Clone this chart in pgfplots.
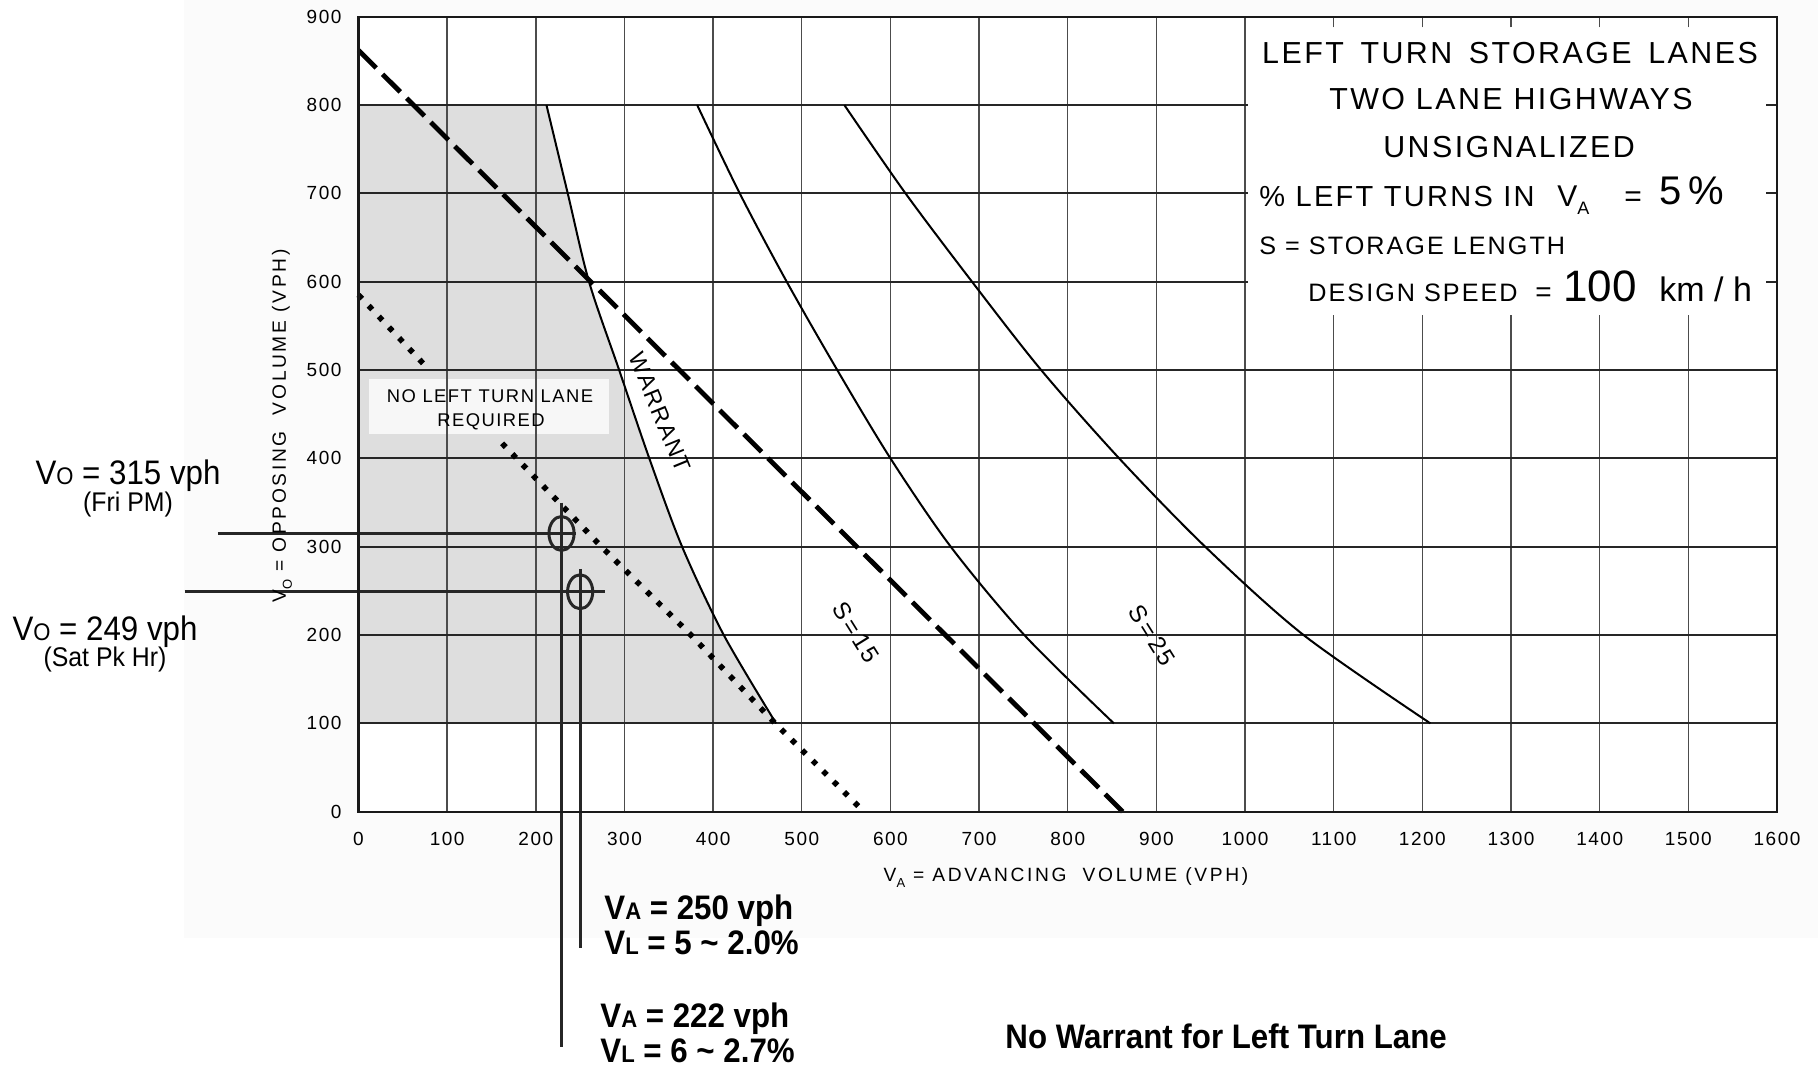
\documentclass[border=0pt]{standalone}
\usepackage{fontspec}
\setmainfont{Liberation Sans}
\newfontfamily\chartfont[LetterSpace=8]{Liberation Sans}
\newfontfamily\chartwide[LetterSpace=14]{Liberation Sans}
\newfontfamily\annfont[FakeStretch=0.92]{Liberation Sans}
\usepackage{pgfplots}
\pgfplotsset{compat=1.18}
\newcommand{\PX}[2]{({(#1)*0.5pt},{(1073-(#2))*0.5pt})}
\newcommand{\fs}[1]{\fontsize{#1}{#1}\selectfont}
\tikzset{
  hgrid/.style={line width=1.1pt, black!85},
  vgrid/.style={line width=0.7pt, black!70},
  ann/.style={line width=1.6pt, black!85},
}
\begin{document}
\begin{tikzpicture}
\path[use as bounding box] (0,0) rectangle (909pt,536.5pt);
\fill[black!1.5] \PX{184}{0} rectangle \PX{1818}{938};
\begin{axis}[
  at={(179.25pt,130.65pt)}, anchor=south west,
  scale only axis, width=709.25pt, height=397.5pt,
  xmin=0, xmax=1600, ymin=0, ymax=900,
  xtick={0,100,200,300,400,500,600,700,800,900,1000,1100,1200,1300,1400,1500,1600},
  ytick={0,100,200,300,400,500,600,700,800,900},
  major tick length=0pt,
  axis on top,
  axis line style={line width=1.1pt, black!90},
  clip=false,
  ticklabel style={font=\chartfont\fs{9.5}},
  /pgf/number format/assume math mode=true,
  /pgf/number format/set thousands separator={},
  xticklabel style={yshift=-6.5pt},
  yticklabel style={xshift=-5pt},
  axis background/.style={fill=white},
]
% shaded "no left turn lane required" region
\addplot[draw=none, fill=black!13] coordinates {(0,100) (0,800) (212,800) (236,700) (260,600) (294,500) (328,400) (365,300) (412,200) (471,100)} -- cycle;
\addplot[draw=none, fill=black!3] coordinates {(12,428) (12,490) (282,490) (282,428)} -- cycle;
% grid
\pgfplotsinvokeforeach{100,200,300,400,500,600,700,800,900,1000}{\addplot[vgrid] coordinates {(#1,0) (#1,900)};}
\pgfplotsinvokeforeach{1100,1200,1300,1400,1500}{\addplot[vgrid] coordinates {(#1,0) (#1,562)}; \addplot[vgrid] coordinates {(#1,888) (#1,900)};}
\pgfplotsinvokeforeach{100,200,300,400,500}{\addplot[hgrid] coordinates {(0,#1) (1600,#1)};}
\pgfplotsinvokeforeach{600,700,800}{\addplot[hgrid] coordinates {(0,#1) (1003,#1)}; \addplot[hgrid] coordinates {(1588,#1) (1600,#1)};}
% warrant
\addplot[line width=1pt, black, smooth, tension=0.5] coordinates {(212,800) (236,700) (260,600) (294,500) (328,400) (365,300) (412,200) (471,100)};
% dashed
\addplot[line width=2.4pt, black, dash pattern=on 12.5pt off 4.5pt] coordinates {(0,862) (862,0)};
% dotted
\addplot[line width=2.8pt, black, dash pattern=on 2.6pt off 4.8pt] coordinates {(0,585) (78,502)};
\addplot[line width=2.8pt, black, dash pattern=on 2.6pt off 4.8pt] coordinates {(162,417) (274,300) (375,200) (470,100) (570,0)};
% S = 15
\addplot[line width=1pt, black, smooth, tension=0.5] coordinates {(382,800) (430,700) (483,600) (540,500) (600,400) (668,300) (751,200) (852,100)};
% S = 25
\addplot[line width=1pt, black, smooth, tension=0.5] coordinates {(548,800) (617,700) (692,600) (770,500) (858,400) (955,300) (1066,200) (1209,100)};
% annotation lines
\addplot[ann] coordinates {(-158.5,315) (245,315)};
\addplot[ann] coordinates {(-196,249) (278,249)};
\addplot[ann] coordinates {(229,350) (229,-266.4)};
\addplot[ann] coordinates {(250,275) (250,-154.4)};
\addplot[only marks, mark=o, mark size=8.5pt, mark options={xscale=0.74, line width=1.5pt, black!85}] coordinates {(229,315) (250,249)};
% curve labels
\node[font=\chartfont\fs{11.5}, rotate=-67.7] at (axis cs:340,452) {WARRANT};
\node[font=\chartfont\fs{12}, rotate=-58] at (axis cs:561,203) {S\,=\,15};
\node[font=\chartfont\fs{12}, rotate=-58] at (axis cs:895,200) {S\,=\,25};
\end{axis}
% in-chart lettering
\node[font=\chartfont\fs{9.2}, anchor=base] at \PX{490}{402} {NO LEFT TURN LANE};
\node[font=\chartfont\fs{9.2}, anchor=base] at \PX{491}{426} {REQUIRED};
% box text
\node[font=\chartfont\fs{15.2}, anchor=base] at \PX{1510}{63.3} {LEFT\hspace{0.55em}TURN\hspace{0.55em}STORAGE\hspace{0.55em}LANES};
\node[font=\chartfont\fs{15.2}, anchor=base] at \PX{1511}{110} {TWO LANE HIGHWAYS};
\node[font=\chartfont\fs{15.2}, anchor=base] at \PX{1509}{158} {UNSIGNALIZED};
\node[font=\chartfont\fs{14.5}, anchor=base west, inner sep=0] at \PX{1259}{207} {\% LEFT TURNS IN};
\node[font=\chartfont\fs{15}, anchor=base west, inner sep=0] at \PX{1557}{207} {V\raisebox{-0.5ex}{\fs{9}A}};
\node[font=\chartfont\fs{15}, anchor=base west, inner sep=0] at \PX{1624}{207} {=};
\node[font=\chartfont\fs{20}, anchor=base west, inner sep=0] at \PX{1659}{205} {5\,\%};
\node[font=\chartfont\fs{12.6}, anchor=base west, inner sep=0] at \PX{1259}{255} {S = STORAGE LENGTH};
\node[font=\chartfont\fs{12.6}, anchor=base west, inner sep=0] at \PX{1308}{302} {DESIGN SPEED};
\node[font=\chartfont\fs{14}, anchor=base west, inner sep=0] at \PX{1535}{302} {=};
\node[font=\fs{22}, anchor=base west, inner sep=0] at \PX{1563}{302} {100};
\node[font=\fs{17}, anchor=base west, inner sep=0] at \PX{1659}{302} {km / h};
% axis labels
\node[font=\chartwide\fs{9.6}, anchor=base] at \PX{1066}{881.7} {V\raisebox{-0.6ex}{\fs{6.5}A} = ADVANCING\ \ VOLUME (VPH)};
\node[font=\chartwide\fs{9.6}, rotate=90, anchor=center] at \PX{282}{426} {V\raisebox{-0.6ex}{\fs{6.5}O} = OPPOSING\ \ VOLUME (VPH)};
% annotations
\node[font=\annfont\fs{17}, anchor=base] at \PX{128}{484.6} {V{\fs{12}O} = 315 vph};
\node[font=\annfont\fs{13.5}, anchor=base] at \PX{128}{511} {(Fri PM)};
\node[font=\annfont\fs{17}, anchor=base] at \PX{105}{640} {V{\fs{12}O} = 249 vph};
\node[font=\annfont\fs{13.5}, anchor=base] at \PX{105}{666.6} {(Sat Pk Hr)};
\node[font=\annfont\bfseries\fs{17}, anchor=base west, inner sep=0] at \PX{604}{919} {V{\fs{12}A} = 250 vph};
\node[font=\annfont\bfseries\fs{17}, anchor=base west, inner sep=0] at \PX{604}{954} {V{\fs{12}L} = 5 \textasciitilde{} 2.0\%};
\node[font=\annfont\bfseries\fs{17}, anchor=base west, inner sep=0] at \PX{600}{1027} {V{\fs{12}A} = 222 vph};
\node[font=\annfont\bfseries\fs{17}, anchor=base west, inner sep=0] at \PX{600}{1062} {V{\fs{12}L} = 6 \textasciitilde{} 2.7\%};
\node[font=\annfont\bfseries\fs{17}, anchor=base west, inner sep=0] at \PX{1005}{1048} {No Warrant for Left Turn Lane};
\end{tikzpicture}
\end{document}
